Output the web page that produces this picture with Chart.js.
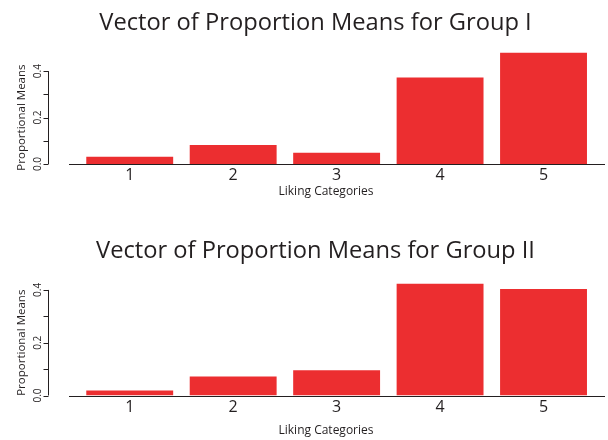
<!DOCTYPE html>
<html>
<head>
<meta charset="utf-8">
<script src="https://cdn.jsdelivr.net/npm/chart.js@4.4.0/dist/chart.umd.min.js"></script>
<style>
    body { margin: 0; background: #fff; }
    canvas { display: block; }
</style>
</head>
<body>
<canvas id="grupo1Chart" width="608" height="220"></canvas>
<canvas id="grupo2Chart" width="608" height="220"></canvas>
<script>
// Datos
const categorias = ['1', '2', '3', '4', '5'];
const mediasGrupo1 = [0.031, 0.082, 0.049, 0.373, 0.479];
const mediasGrupo2 = [0.019, 0.072, 0.096, 0.423, 0.404];
const ticksY = [0, 0.1, 0.2, 0.3, 0.4];
const etiquetasY = ['0.0', '', '0.2', '', '0.4'];

const colorTexto = '#231f20';
const colorBarra = '#ec2e30';
const fuente = "'Open Sans', 'Noto Sans', sans-serif";

// Ejes estilo R: linea Y solo de 0 a 0.4, etiquetas giradas, titulos de ejes
const ejesR = {
    id: 'ejesR',
    afterDatasetsDraw(chart, args, opts) {
        const ctx = chart.ctx;
        const escalaY = chart.scales.y;
        const xEje = 48.5;
        const y0 = escalaY.getPixelForValue(0);
        const yMax = escalaY.getPixelForValue(ticksY[ticksY.length - 1]);

        ctx.save();
        ctx.strokeStyle = colorTexto;
        ctx.lineWidth = 1;

        // Linea base del eje X
        ctx.beginPath();
        ctx.moveTo(69, Math.round(y0) + 0.5);
        ctx.lineTo(605, Math.round(y0) + 0.5);
        ctx.stroke();

        // Linea del eje Y y marcas
        ctx.beginPath();
        ctx.moveTo(xEje, y0);
        ctx.lineTo(xEje, yMax);
        ticksY.forEach(v => {
            const py = Math.round(escalaY.getPixelForValue(v)) + 0.5;
            ctx.moveTo(xEje, py);
            ctx.lineTo(xEje - 5, py);
        });
        ctx.stroke();

        // Etiquetas del eje Y
        ctx.fillStyle = colorTexto;
        ctx.font = '10px ' + fuente;
        ctx.textAlign = 'center';
        ctx.textBaseline = 'middle';
        ticksY.forEach((v, i) => {
            if (!etiquetasY[i]) return;
            const py = escalaY.getPixelForValue(v);
            ctx.save();
            ctx.translate(38.5, py);
            ctx.rotate(-Math.PI / 2);
            ctx.fillText(etiquetasY[i], 0, 0);
            ctx.restore();
        });

        // Titulo del eje X
        ctx.font = '12px ' + fuente;
        ctx.fillText('Liking Categories', 326, opts.yTituloX);

        // Titulo del eje Y
        ctx.font = '11.5px ' + fuente;
        ctx.translate(22, (y0 + yMax) / 2);
        ctx.rotate(-Math.PI / 2);
        ctx.fillText('Proportional Means', 0, 0);
        ctx.restore();
    }
};

function crearGrafico(id, titulo, datos, conf) {
    const canvas = document.getElementById(id);
    const ctx = canvas.getContext('2d');

    return new Chart(ctx, {
        type: 'bar',
        data: {
            labels: categorias,
            datasets: [{
                data: datos,
                backgroundColor: colorBarra,
                borderWidth: 0,
                barPercentage: 0.84,
                categoryPercentage: 1
            }]
        },
        options: {
            responsive: false,
            animation: false,
            layout: {
                padding: { left: 23, right: 0, top: 0, bottom: conf.padInferior }
            },
            plugins: {
                legend: { display: false },
                tooltip: { enabled: false },
                title: {
                    display: true,
                    text: titulo,
                    color: colorTexto,
                    font: { family: fuente, size: 23.7, weight: 'normal' },
                    padding: { top: conf.tituloArriba, bottom: conf.tituloAbajo }
                },
                ejesR: { yTituloX: conf.yTituloX }
            },
            scales: {
                x: {
                    grid: { display: false, drawTicks: false },
                    border: { display: false },
                    ticks: {
                        color: colorTexto,
                        font: { family: fuente, size: 16 },
                        padding: conf.padTicks
                    }
                },
                y: {
                    min: 0,
                    max: 0.5,
                    ticks: { display: false },
                    grid: { display: false, drawTicks: false },
                    border: { display: false },
                    afterFit(escala) { escala.width = 55; }
                },
                yDer: {
                    type: 'linear',
                    position: 'right',
                    ticks: { display: false },
                    grid: { display: false, drawTicks: false },
                    border: { display: false },
                    afterFit(escala) { escala.width = 12.75; }
                }
            }
        },
        plugins: [ejesR]
    });
}

window.grafico1 = crearGrafico('grupo1Chart', 'Vector of Proportion Means for Group I', mediasGrupo1, {
    tituloArriba: 9.5, tituloAbajo: 10, padTicks: 1.4, padInferior: 34, yTituloX: 191.5
});
window.grafico2 = crearGrafico('grupo2Chart', 'Vector of Proportion Means for Group II', mediasGrupo2, {
    tituloArriba: 17.5, tituloAbajo: -2.4, padTicks: 2.4, padInferior: 20.5, yTituloX: 211
});
</script>
</body>
</html>
